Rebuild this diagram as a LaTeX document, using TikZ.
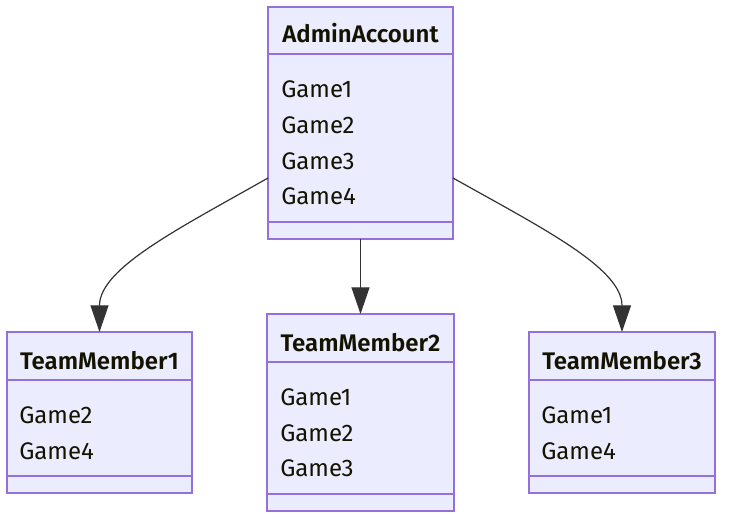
\documentclass[tikz,border=0pt]{standalone}
\usepackage{fontspec}
\setmainfont{Fira Sans}[BoldFont={Fira Sans SemiBold}]
\usetikzlibrary{arrows.meta}
\definecolor{boxfill}{HTML}{ECECFF}
\definecolor{boxline}{HTML}{9370DB}
\definecolor{edge}{HTML}{333333}
\definecolor{txt}{HTML}{131300}
\begin{document}
\begin{tikzpicture}[x=0.75pt,y=-0.75pt,
  classbox/.style={draw=boxline,fill=boxfill,line width=1.3pt,inner sep=0pt,outer sep=0pt},
  divider/.style={draw=boxline,line width=1.1pt},
  title/.style={anchor=base,inner sep=0pt,text=txt,font=\fontsize{18pt}{22pt}\selectfont\bfseries},
  member/.style={anchor=base west,inner sep=0pt,text=txt,font=\fontsize{18pt}{22pt}\selectfont},
  link/.style={draw=edge,line width=0.9pt,-{Triangle[length=20pt,width=13.5pt]}}]
\useasboundingbox (0,0) rectangle (733,520);
% AdminAccount
\path[classbox] (268,7) rectangle (453,239);
\node[minimum width=185*0.75pt,minimum height=232*0.75pt,inner sep=0pt,outer sep=0pt] (admin) at (360.5,123) {};
\draw[divider] (268,54) -- (453,54);
\draw[divider] (268,222) -- (453,222);
\node[title] (adminT) at (360.5,43) {AdminAccount};
\node[member] (adminG1) at (281,98) {Game1};
\node[member] (adminG2) at (281,134) {Game2};
\node[member] (adminG3) at (281,169.5) {Game3};
\node[member] (adminG4) at (281,205) {Game4};
% TeamMember1
\path[classbox] (7,332) rectangle (192,493);
\node[minimum width=185*0.75pt,minimum height=161*0.75pt,inner sep=0pt,outer sep=0pt] (tm1) at (99.5,412.5) {};
\draw[divider] (7,380) -- (192,380);
\draw[divider] (7,476) -- (192,476);
\node[title] (tm1T) at (99.5,370) {TeamMember1};
\node[member] (tm1G2) at (19,423.5) {Game2};
\node[member] (tm1G4) at (19,459.5) {Game4};
% TeamMember2
\path[classbox] (267,314) rectangle (454,511);
\node[minimum width=187*0.75pt,minimum height=197*0.75pt,inner sep=0pt,outer sep=0pt] (tm2) at (360.5,412.5) {};
\draw[divider] (267,362) -- (454,362);
\draw[divider] (267,494) -- (454,494);
\node[title] (tm2T) at (360.5,352) {TeamMember2};
\node[member] (tm2G1) at (280,406) {Game1};
\node[member] (tm2G2) at (280,441.5) {Game2};
\node[member] (tm2G3) at (280,477) {Game3};
% TeamMember3
\path[classbox] (529,332) rectangle (715,493);
\node[minimum width=186*0.75pt,minimum height=161*0.75pt,inner sep=0pt,outer sep=0pt] (tm3) at (622,412.5) {};
\draw[divider] (529,380) -- (715,380);
\draw[divider] (529,476) -- (715,476);
\node[title] (tm3T) at (622,370) {TeamMember3};
\node[member] (tm3G1) at (541,423.5) {Game1};
\node[member] (tm3G4) at (541,459.5) {Game4};
% connectors
\coordinate (aL) at (268,178);
\coordinate (aR) at (453,178);
\draw[link] (aL) .. controls (180,228) and (99.5,268) .. (tm1.north);
\draw[link] (admin.south) -- (tm2.north);
\draw[link] (aR) .. controls (542,228) and (622,268) .. (tm3.north);
\end{tikzpicture}
\end{document}
